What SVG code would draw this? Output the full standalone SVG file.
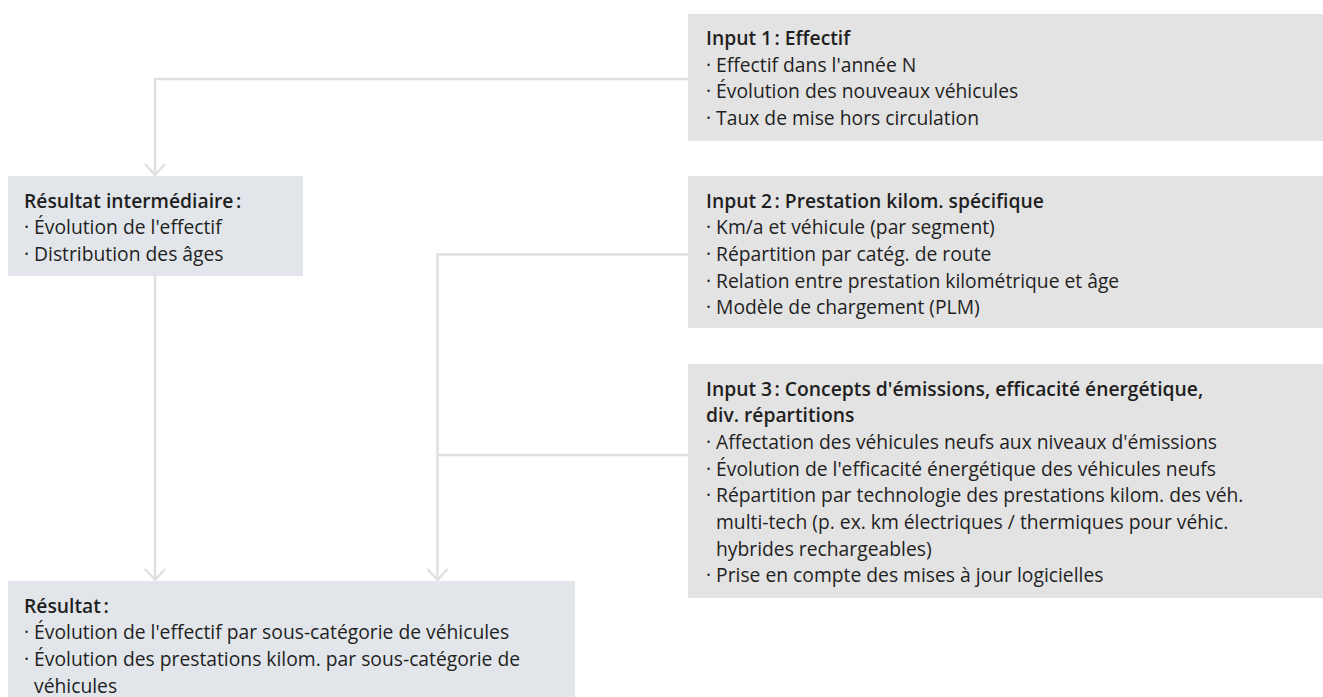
<svg xmlns="http://www.w3.org/2000/svg" width="1323" height="697" viewBox="0 0 1323 697">
<defs>
<style>
.inp{fill:#e3e3e3}
.res{fill:#e2e6ea}
text{font-family:"Open Sans","Noto Sans","Liberation Sans",sans-serif;font-size:19.3px;fill:#1f1f1f}
.t{font-weight:600}
.c{fill:none;stroke:#e0e0e0;stroke-width:2.5}
</style>
<marker id="ah" markerUnits="userSpaceOnUse" orient="auto" refX="0" refY="0" markerWidth="30" markerHeight="30" viewBox="-15 -15 30 30" overflow="visible">
<path d="M-11,-10 L0,0 L-11,10" fill="none" stroke="#e0e0e0" stroke-width="2.5"/>
</marker>
</defs>
<rect width="1323" height="697" fill="#ffffff"/>
<g id="connectors">
<path class="c" d="M688,79 H155 V175" marker-end="url(#ah)"/>
<path class="c" d="M155,276 V580" marker-end="url(#ah)"/>
<path class="c" d="M688,254.5 H437.5 V580" marker-end="url(#ah)"/>
<path class="c" d="M688,455 H437.5"/>
</g>
<g id="input1">
<rect class="inp" x="688" y="14" width="635" height="127"/>
<text x="706" y="45" class="t">Input 1&#8239;: Effectif</text>
<text x="706" y="71.7">· Effectif dans l'année N</text>
<text x="706" y="98.3">· Évolution des nouveaux véhicules</text>
<text x="706" y="125">· Taux de mise hors circulation</text>
</g>
<g id="input2">
<rect class="inp" x="688" y="176" width="635" height="152"/>
<text x="706" y="207.7" class="t">Input 2&#8239;: Prestation kilom. spécifique</text>
<text x="706" y="234.3">· Km/a et véhicule (par segment)</text>
<text x="706" y="261">· Répartition par catég. de route</text>
<text x="706" y="287.6">· Relation entre prestation kilométrique et âge</text>
<text x="706" y="314.3">· Modèle de chargement (PLM)</text>
</g>
<g id="input3">
<rect class="inp" x="688" y="364" width="635" height="234"/>
<text x="706" y="395.7" class="t">Input 3&#8239;: Concepts d'émissions, efficacité énergétique,</text>
<text x="706" y="422.3" class="t">div. répartitions</text>
<text x="706" y="449">· Affectation des véhicules neufs aux niveaux d'émissions</text>
<text x="706" y="475.6">· Évolution de l'efficacité énergétique des véhicules neufs</text>
<text x="706" y="502.3">· Répartition par technologie des prestations kilom. des véh.</text>
<text x="716" y="529">multi-tech (p. ex. km électriques / thermiques pour véhic.</text>
<text x="716" y="555.6">hybrides rechargeables)</text>
<text x="706" y="582.3">· Prise en compte des mises à jour logicielles</text>
</g>
<g id="resultat-intermediaire">
<rect class="res" x="8" y="176" width="295" height="100"/>
<text x="24" y="207.7" class="t">Résultat intermédiaire&#8239;:</text>
<text x="24" y="234.3">· Évolution de l'effectif</text>
<text x="24" y="261">· Distribution des âges</text>
</g>
<g id="resultat">
<rect class="res" x="8" y="581" width="567" height="116"/>
<text x="24" y="612.7" class="t">Résultat&#8239;:</text>
<text x="24" y="639.3">· Évolution de l'effectif par sous-catégorie de véhicules</text>
<text x="24" y="666">· Évolution des prestations kilom. par sous-catégorie de</text>
<text x="34" y="692.6">véhicules</text>
</g>
</svg>
